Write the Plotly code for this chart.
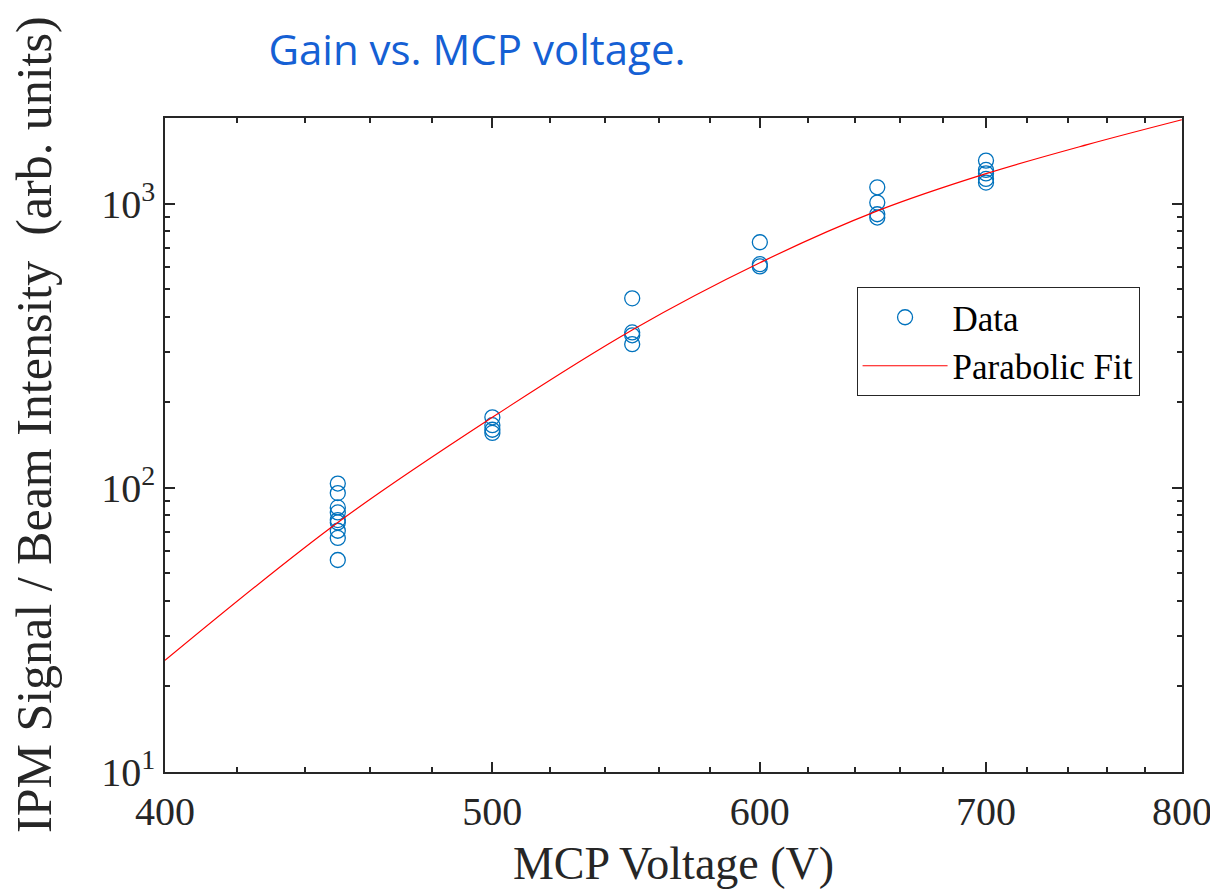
import plotly.graph_objects as go

# Data
v450 = [103.5, 95.8, 85.3, 81.9, 77.0, 75.5, 70.6, 66.6, 55.7]
v500 = [177, 166, 160, 156]
v550 = [464, 352, 344, 320]
v600 = [731, 612, 601]
v650 = [1141, 1008, 917, 893]
v700 = [1416, 1313, 1277, 1221, 1185]

data_x = [450]*len(v450) + [500]*len(v500) + [550]*len(v550) + [600]*len(v600) + [650]*len(v650) + [700]*len(v700)
data_y = v450 + v500 + v550 + v600 + v650 + v700

fit_x = [400, 450, 500, 550, 600, 650, 700, 750, 800]
fit_y = [24.7, 75.5, 177, 359, 619, 942, 1274, 1612, 1972]

x_major = [400, 500, 600, 700, 800]
x_minor = [420, 440, 460, 480, 520, 540, 560, 580, 620, 640, 660, 680, 720, 740, 760, 780]
y_major = [10, 100, 1000]
y_major_text = ["10<sup>1</sup>", "10<sup>2</sup>", "10<sup>3</sup>"]
y_minor = [20, 30, 40, 50, 60, 70, 80, 90, 200, 300, 400, 500, 600, 700, 800, 900]

axis_col = "#262626"
serif = "Liberation Serif"

fig = go.Figure()
fig.add_trace(go.Scatter(
    x=data_x, y=data_y, mode="markers", name="Data",
    marker=dict(symbol="circle-open", size=15, color="#0072BD", line=dict(width=1.3, color="#0072BD")),
))
fig.add_trace(go.Scatter(
    x=fit_x, y=fit_y, mode="lines", name="Parabolic Fit",
    line=dict(color="#FF0000", width=1.2, shape="spline"),
))

fig.update_layout(
    width=1210, height=896,
    margin=dict(l=165, r=28, t=118, b=124),
    paper_bgcolor="white", plot_bgcolor="white",
    title=dict(text="Gain vs. MCP voltage.", x=477/1210, xanchor="center",
               y=1-50/896, yanchor="middle", xref="container", yref="container",
               font=dict(family="Open Sans", size=42, color="#1560D4")),
    legend=dict(x=0.68, y=0.7416, xanchor="left", yanchor="top",
                bordercolor=axis_col, borderwidth=1, bgcolor="white",
                font=dict(family=serif, size=35, color="black"),
                itemwidth=85, tracegroupgap=0),
    showlegend=True,
    annotations=[dict(
        text="IPM Signal / Beam Intensity \u00a0(arb. units)",
        xref="paper", yref="paper", x=(34-165)/1017, y=(772-425)/654,
        xanchor="center", yanchor="middle", textangle=-90, showarrow=False,
        font=dict(family=serif, size=50, color=axis_col),
    )],
)

fig.update_xaxes(
    type="log", range=[2.602059991, 2.90312], automargin=False,
    tickmode="array", tickvals=x_major, ticktext=[str(v) for v in x_major],
    ticks="inside", ticklen=10, tickwidth=1.5, tickcolor=axis_col,
    minor=dict(tickmode="array", tickvals=x_minor, ticks="inside", ticklen=5, tickwidth=1.5, tickcolor=axis_col),
    showline=True, linecolor=axis_col, linewidth=1.5, mirror="ticks",
    showgrid=False, zeroline=False, ticklabelstandoff=3, ticklabeloverflow="allow",
    tickfont=dict(family=serif, size=40, color=axis_col),
    title=dict(text="MCP Voltage (V)", font=dict(family=serif, size=46, color=axis_col), standoff=14),
)
fig.update_yaxes(
    type="log", range=[1, 3.301029996], automargin=False,
    tickmode="array", tickvals=y_major, ticktext=y_major_text,
    ticks="inside", ticklen=10, tickwidth=1.5, tickcolor=axis_col,
    minor=dict(tickmode="array", tickvals=y_minor, ticks="inside", ticklen=5, tickwidth=1.5, tickcolor=axis_col),
    showline=True, linecolor=axis_col, linewidth=1.5, mirror="ticks",
    showgrid=False, zeroline=False,
    tickfont=dict(family=serif, size=40, color=axis_col),
)

fig.write_html("out.html")
